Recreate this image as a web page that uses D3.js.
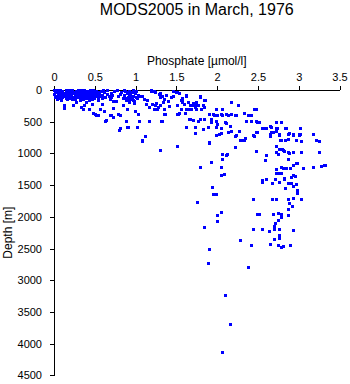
<!DOCTYPE html>
<html>
<head>
<meta charset="utf-8">
<script src="https://cdn.jsdelivr.net/npm/d3@7"></script>
<style>
  html, body { margin: 0; padding: 0; background: #fff; }
  svg { display: block; font-family: "Liberation Sans", Arial, Helvetica, sans-serif; }
  .axis path, .axis line { stroke: #000; stroke-width: 1; shape-rendering: crispEdges; }
  .axis text { font-size: 11px; fill: #000; }
</style>
</head>
<body>
<script>
// Phosphate profile samples, [phosphate (µmol/l), depth (m)], grouped by layer.

const mixedLayer = [
  [0.01,5],[0.04,12],[0.08,3],[0.11,18],[0.15,6],[0.19,15],[0.23,4],[0.27,20],[0.30,8],[0.34,14],[0.38,2],[0.41,22],[0.45,10],[0.48,5],[0.52,17],
  [0.02,35],[0.06,42],[0.10,30],[0.13,48],[0.17,38],[0.21,45],[0.25,33],[0.28,50],[0.32,40],[0.36,47],[0.40,36],[0.43,52],[0.47,41],[0.51,34],[0.55,44],
  [0.01,65],[0.05,72],[0.09,60],[0.12,78],[0.16,68],[0.20,75],[0.24,62],[0.27,82],[0.31,70],[0.35,76],[0.39,64],[0.42,85],[0.46,71],[0.50,66],[0.53,80],
  [0.03,95],[0.07,102],[0.11,90],[0.14,108],[0.18,98],[0.22,105],[0.26,92],[0.30,112],[0.33,100],[0.37,106],[0.41,94],[0.44,115],[0.48,101],[0.52,96],
  [0.02,125],[0.06,132],[0.10,120],[0.15,138],[0.19,128],[0.24,135],[0.29,122],[0.34,140],[0.39,130],[0.45,126],[0.50,136],
  [0.04,150],[0.09,158],[0.17,148],[0.26,155],[0.36,152],[0.43,160],
  [0.03,22],[0.07,55],[0.12,110],[0.16,25],[0.21,88],[0.25,118],[0.29,58],[0.33,122],[0.37,28],[0.40,112],[0.44,62],[0.47,145],
  [0.05,88],[0.09,140],[0.14,52],[0.20,30],[0.23,142],[0.31,26],[0.35,98],[0.42,140],[0.49,116],[0.54,126],[0.03,115],[0.18,118],
  [0.58,20],[0.62,40],[0.66,15],[0.70,55],[0.74,30],[0.78,10],[0.83,45],[0.60,85],[0.68,100],[0.56,60],[0.61,5],[0.65,68],
  [0.57,110],[0.63,120],[0.72,80],[0.81,70],
  [0.86,10],[0.88,30],[0.90,55],[0.92,20],[0.94,75],[0.96,40],[0.98,100],[1.00,60],[0.87,90],[0.91,120],
  [0.95,150],[0.99,185],[1.02,130],[0.93,200],[0.89,170],[0.97,5],[1.01,25],[0.85,130],[0.94,110],[0.99,220],
  [0.89,140],[0.93,85],[0.96,125],[1.03,80],[0.91,45],[0.98,160],
  [1.19,25],[1.24,35],[1.31,63],[1.33,95],[1.38,90],[1.36,147],[1.40,185],[1.34,200],[1.46,95],[1.50,42],
  [1.54,63],[1.62,79],[1.58,131],[1.58,200],[1.79,105],[1.86,158],[1.23,16],[1.19,0],[1.29,68],[1.31,121],
  [1.44,121],[1.47,16],[1.52,40],[1.56,173],[1.58,147],[1.05,95],[1.09,95],[1.11,147],[1.15,173],[1.01,121],
  [0.91,147],[0.97,173],[0.22,140],[0.28,190],[0.33,173],[0.55,173],[0.59,140],[0.69,147],[0.71,121],[0.73,174],
  [0.79,95],[0.77,174],[1.63,95],[1.79,121],[1.85,158]
];

const upperThermocline = [
  [0.13,295],[0.13,252],[0.24,252],[0.34,279],[0.36,315],[0.38,252],[0.44,305],[0.40,200],[0.47,226],[0.51,383],
  [0.54,410],[0.57,305],[0.59,226],[0.63,489],[0.69,410],[0.73,295],[0.79,383],[0.48,370],[0.52,395],[0.62,340],
  [0.64,485],[0.70,395],[0.73,430],[0.81,395],[0.89,500],[0.90,595],[1.03,385],[1.02,590],[1.05,500],[1.17,495],
  [1.33,495],[1.37,385],[1.52,380],[0.85,252],[1.13,221],[1.17,279],[1.21,221],[1.60,221],[1.36,383],[1.28,279],
  [0.90,315],[1.00,340],[1.23,300],[1.36,300],[1.32,489],[0.91,590],[1.62,590],[1.53,383],
  [1.26,220],[1.24,250],[1.30,250],[1.42,263],[1.27,305],[1.52,252],[1.56,305],[1.54,378],[1.61,378],[1.65,305],
  [1.70,252],[1.75,252],[1.83,252],[1.69,305],[1.71,210],[1.75,200],[1.83,237],[1.66,473],[1.71,484],[1.77,500],
  [1.63,588],[1.91,394],[1.99,305],[1.95,394],[1.93,462],[1.97,410],[2.05,394],[1.99,500],[2.05,604],[2.12,394],
  [2.18,394],[2.11,526],[2.18,200],[2.26,252],[2.24,410],[2.34,368],[2.36,500],[2.42,410],[2.48,315],[2.42,500],
  [2.49,515],[2.56,604],[2.59,604],[2.66,578],[2.74,604],[2.85,604],[2.79,515],[2.73,515],[3.02,604],
  [1.65,200],[1.67,252],[1.63,305],[1.71,226],[1.73,279],[1.77,252],[1.81,305],[1.85,279],[1.75,305],[1.67,462],
  [1.79,462],[1.85,462],[2.01,400],[2.07,410],[2.14,400],[2.22,410],[2.07,305],[2.38,410],[2.46,315],[2.48,489],
  [1.93,515],[2.01,541],[2.10,515],[2.16,568],[1.99,594],[1.83,620],[1.63,594],[1.73,594],[1.89,594],[2.55,610],
  [2.52,505],[2.79,505],[2.60,610],[2.67,594],[2.84,610],[2.73,610],[0.81,615]
];

const lowerThermocline = [
  [1.09,805],[1.12,735],[1.30,960],[1.52,885],[1.73,683],[2.28,657],[2.23,736],[2.30,789],[2.49,673],[2.46,736],
  [2.35,762],[2.22,904],[1.91,830],[2.48,973],[2.61,1041],[2.73,657],[2.67,673],[2.65,736],[2.78,789],[2.84,789],
  [2.77,710],[2.89,694],[2.97,789],[3.02,699],[3.04,805],[3.18,699],[3.22,789],[3.25,805],[2.73,894],[2.80,946],
  [2.83,973],[2.87,988],[2.94,988],[3.04,988],[2.75,1025],[3.26,988],[2.07,1025],[2.12,1041],[2.07,1093],
  [0.80,642],[1.08,804],[2.03,699],[2.14,673],[2.48,673],[2.24,715],[2.65,699],[2.69,673],[2.76,699],[2.87,699],
  [2.93,699],[3.01,699],[1.99,710],[2.05,694],[2.17,647],[2.29,789],[2.34,789],[2.44,725],[2.66,736],[2.93,710],
  [3.01,710],[3.26,815],[2.79,789],[2.87,778],[1.91,841],[2.77,935],[2.81,957],[2.89,998],[2.73,988],[2.13,1025]
];

const intermediateWater = [
  [1.93,1146],[1.79,1219],[2.87,1104],[2.97,1156],[2.93,1198],[3.06,1235],[2.81,1235],[2.73,1251],[2.79,1314],[2.75,1314],
  [2.93,1356],[3.18,1219],[3.28,1209],[3.32,1183],[2.61,1409],[2.59,1114],[2.05,1219],[2.09,1330],[2.05,1345],[2.79,1225],
  [2.85,1235],[2.90,1235],[2.99,1156],[3.33,1183],[2.73,1314],[2.71,1408],[2.83,1392],[2.91,1377],[2.96,1367],[2.55,1462],
  [2.56,1430],[2.68,1482],[2.76,1462],[2.82,1419],[2.88,1482],[2.91,1482],[2.97,1498],[2.84,1550],[2.99,1604],[2.99,1640],
  [1.94,1535],[1.95,1645],[1.99,1656],[2.44,1724],[2.68,1724],[2.73,1724],[2.87,1724],[2.93,1708],[3.04,1724],[2.94,1525],
  [2.98,1588]
];

const deepWater = [
  [1.76,1771],[2.89,1787],[2.92,1840],[2.87,1882],[2.05,1935],[2.00,1976],[2.01,2077],[1.85,2172],[2.29,2366],[1.91,2508],
  [1.90,2733],[2.39,2796],[2.10,3244],[2.16,3695],[2.06,4148],[2.50,1960],[2.52,1960],[2.69,1971],[2.75,1945],[2.79,1971],
  [2.79,2007],[2.88,1976],[2.75,2061],[2.72,2113],[2.70,2156],[2.45,2197],[2.55,2197],[2.70,2208],[2.76,2208],[2.94,2213],
  [2.64,2235],[2.76,2302],[2.70,2361],[2.77,2339],[2.42,2449],[2.66,2440],[2.75,2449],[2.79,2481],[2.81,2471],[2.90,2449]
];

const phosphateTicks = [0, 0.5, 1, 1.5, 2, 2.5, 3, 3.5];
const depthTicks = [0, 500, 1000, 1500, 2000, 2500, 3000, 3500, 4000, 4500];

const titleText = "MODS2005 in March, 1976";
const xLabel = "Phosphate [\u00b5mol/l]";
const yLabel = "Depth [m]";

const width = 350, height = 384;
const plot = { left: 54, right: 339.5, top: 90, bottom: 375.3 };

const svg = d3.select("body").append("svg")
  .attr("width", width).attr("height", height);

const x = d3.scaleLinear().domain([0, 3.5]).range([plot.left, plot.right]);
const y = d3.scaleLinear().domain([0, 4500]).range([plot.top, plot.bottom]);

const fmtX = d => (d === 0 ? "0" : d3.format("")(d));

svg.append("g").attr("class", "axis")
  .attr("transform", `translate(0,${plot.top})`)
  .call(d3.axisTop(x).tickValues(phosphateTicks).tickFormat(fmtX)
    .tickSize(4).tickSizeOuter(0).tickPadding(5));

svg.append("g").attr("class", "axis")
  .attr("transform", `translate(${plot.left},0)`)
  .call(d3.axisLeft(y).tickValues(depthTicks).tickFormat(d3.format("d"))
    .tickSize(4).tickSizeOuter(0).tickPadding(8));

svg.append("text")
  .attr("x", (plot.left + plot.right) / 2).attr("y", 15)
  .attr("text-anchor", "middle").attr("font-size", 16)
  .text(titleText);

svg.append("text")
  .attr("x", (plot.left + plot.right) / 2).attr("y", 65)
  .attr("text-anchor", "middle").attr("font-size", 12)
  .text(xLabel);

svg.append("text")
  .attr("transform", `translate(12,${(plot.top + plot.bottom) / 2}) rotate(-90)`)
  .attr("text-anchor", "middle").attr("font-size", 12)
  .text(yLabel);

const samples = [].concat(mixedLayer, upperThermocline, lowerThermocline, intermediateWater, deepWater);

svg.append("g")
  .selectAll("rect")
  .data(samples)
  .join("rect")
  .attr("x", d => Math.round(x(d[0]) - 1.5))
  .attr("y", d => Math.round(y(d[1]) - 1.5))
  .attr("width", 3)
  .attr("height", 3)
  .attr("fill", "#0000ff")
  .attr("shape-rendering", "crispEdges");
</script>
</body>
</html>
